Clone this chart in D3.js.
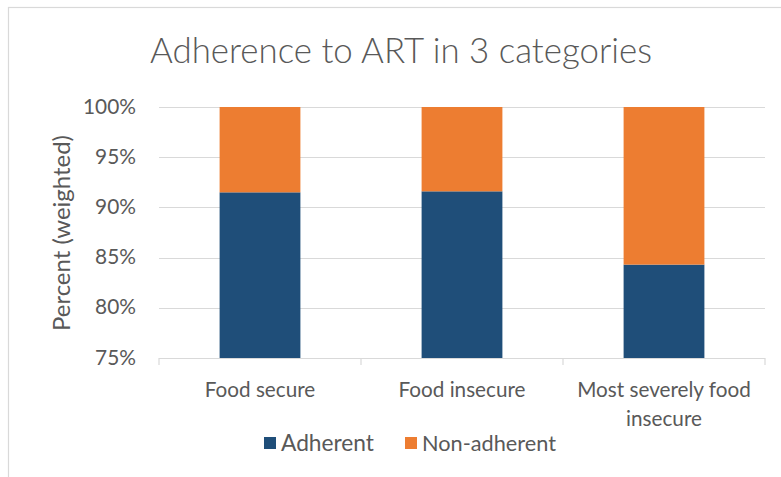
<!DOCTYPE html>
<html><head><meta charset="utf-8">
<script src="https://cdn.jsdelivr.net/npm/d3@7"></script>
<style>html,body{margin:0;padding:0;background:#fff;}svg{display:block;}</style>
</head><body>
<svg id="c" width="781" height="477"></svg>
<script>
const categories = ["Food secure", "Food insecure", "Most severely food insecure"];
const adherent = [91.5, 91.6, 84.3];
const nonAdherent = [8.5, 8.4, 15.7];
const seriesNames = ["Adherent", "Non-adherent"];
const seriesColors = ["#1F4E79", "#ED7D31"];
const yTicks = [75, 80, 85, 90, 95, 100];
const titleText = "Adherence to ART in 3 categories";
const yLabel = "Percent (weighted)";

const FONT = "Lato, 'Open Sans', sans-serif";
const TXT = "#595959";
const svg = d3.select("#c");

function fit(sel, target, size){
  sel.style("font-size", size + "px");
  const w = sel.node().getComputedTextLength();
  const s = size * target / w;
  sel.style("font-size", s.toFixed(2) + "px");
  return s;
}

// outer chart border
svg.append("rect").attr("x", 8.5).attr("y", 7.5).attr("width", 800).attr("height", 500)
  .attr("fill", "#fff").attr("stroke", "#d9d9d9").attr("stroke-width", 1.2);

const m = {left: 159, right: 765, top: 107, bottom: 358};
const x = d3.scaleBand().domain(categories).range([m.left, m.right]).paddingInner(0.6).paddingOuter(0.3);
const y = d3.scaleLinear().domain([75, 100]).range([m.bottom, m.top]);

// gridlines
svg.append("g").selectAll("line").data(yTicks.slice(1)).join("line")
  .attr("x1", m.left).attr("x2", m.right)
  .attr("y1", d => Math.round(y(d)) + 0.5).attr("y2", d => Math.round(y(d)) + 0.5)
  .attr("stroke", "#d9d9d9").attr("stroke-width", 1.2);

// stacked data
const rows = categories.map((c, i) => ({cat: c, Adherent: adherent[i], "Non-adherent": nonAdherent[i]}));
const stack = d3.stack().keys(seriesNames)(rows);
const color = d3.scaleOrdinal().domain(seriesNames).range(seriesColors);

svg.append("g").selectAll("g").data(stack).join("g").attr("fill", d => color(d.key))
  .selectAll("rect").data(d => d).join("rect")
  .attr("x", d => x(d.data.cat))
  .attr("width", x.bandwidth())
  .attr("y", d => y(Math.min(d[1], 100)))
  .attr("height", d => y(Math.max(d[0], 75)) - y(Math.min(d[1], 100)));

// x axis line + ticks
const xa = svg.append("g");
xa.append("line").attr("x1", m.left).attr("x2", m.right).attr("y1", m.bottom + 0.5).attr("y2", m.bottom + 0.5)
  .attr("stroke", "#d9d9d9").attr("stroke-width", 1.2);
const tickXs = d3.range(categories.length + 1).map(i => m.left + i * (m.right - m.left) / categories.length);
xa.selectAll("line.t").data(tickXs).join("line").attr("class", "t")
  .attr("x1", d => d).attr("x2", d => d).attr("y1", m.bottom).attr("y2", m.bottom + 7)
  .attr("stroke", "#d9d9d9").attr("stroke-width", 1.2);

// category labels
const catLines = [["Food secure"], ["Food insecure"], ["Most severely food", "insecure"]];
// size chosen so "Food insecure" matches reference width
const probe = svg.append("text").style("font-family", FONT).text("Food insecure");
const catSize = fit(probe, 127, 18);
probe.remove();
catLines.forEach((lines, i) => {
  const cx = x(categories[i]) + x.bandwidth() / 2;
  lines.forEach((ln, j) => {
    svg.append("text").attr("x", cx).attr("y", 397 + j * 29)
      .attr("text-anchor", "middle").attr("fill", TXT)
      .style("font-family", FONT).style("font-size", catSize.toFixed(2) + "px").text(ln);
  });
});

// y tick labels
const p2 = svg.append("text").style("font-family", FONT).text("100%");
const tickSize = fit(p2, 53, 18);
p2.remove();
svg.append("g").selectAll("text").data(yTicks).join("text")
  .attr("x", 136).attr("y", d => y(d) + 6.5)
  .attr("text-anchor", "end").attr("fill", TXT)
  .style("font-family", FONT).style("font-size", tickSize.toFixed(2) + "px")
  .text(d => d + "%");

// y axis title
const yl = svg.append("text").attr("transform", "translate(70,233) rotate(-90)")
  .attr("text-anchor", "middle").attr("fill", TXT).style("font-family", FONT).text(yLabel);
fit(yl, 196, 21);

// title
const t = svg.append("text").attr("x", 401).attr("y", 63).attr("text-anchor", "middle")
  .attr("fill", TXT).style("font-family", FONT).style("font-weight", 300).text(titleText);
fit(t, 502, 29);

// legend
const leg = svg.append("g");
const legX = [264, 405];
const legW = [93, 134];
seriesNames.forEach((s, i) => {
  leg.append("rect").attr("x", legX[i]).attr("y", 437).attr("width", 12).attr("height", 12).attr("fill", seriesColors[i]);
  const lt = leg.append("text").attr("x", legX[i] + 17).attr("y", 451).attr("fill", TXT)
    .style("font-family", FONT).text(s);
  fit(lt, legW[i], 18);
});
</script>
</body></html>
